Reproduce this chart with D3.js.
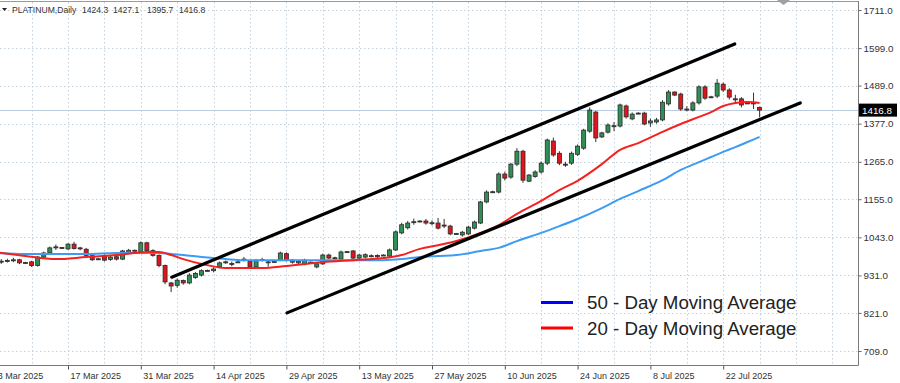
<!DOCTYPE html>
<html><head><meta charset="utf-8">
<script src="https://cdn.jsdelivr.net/npm/d3@7"></script>
<style>html,body{margin:0;padding:0;background:#fff;} svg{display:block;font-family:"Liberation Sans",Arial,sans-serif;}</style>
</head><body>
<svg id="chart" width="900" height="383"></svg>
<script>
// ---------------- DATA ----------------
const symbol = "PLATINUM,Daily";
const headerValues = ["1424.3", "1427.1", "1395.7", "1416.8"];
const xTickBars = [0, 12, 24, 36, 48, 60, 72, 84, 96, 108, 120];
const xTickLabels = ["3 Mar 2025", "17 Mar 2025", "31 Mar 2025", "14 Apr 2025", "29 Apr 2025",
  "13 May 2025", "27 May 2025", "10 Jun 2025", "24 Jun 2025", "8 Jul 2025", "22 Jul 2025"];
const yTicks = [709, 821, 931, 1043, 1155, 1265, 1377, 1489, 1599, 1711];

const opens = [
  974, 970, 973, 975, 977, 968, 971, 960, 985, 997,
  1013, 1013, 1009, 1023, 1012, 1008, 989, 978, 990, 978,
  986, 979, 997, 1005, 1000, 1027, 1004, 990, 960, 909,
  902, 916, 909, 925, 932, 946, 945, 956, 970, 966,
  970, 978, 972, 956, 978, 970, 972, 976, 995, 976,
  968, 964, 970, 956, 965, 991, 982, 979, 1000, 1003,
  982, 985, 988, 990, 990, 988, 1006, 1056, 1071, 1088,
  1091, 1091, 1085, 1085, 1079, 1076, 1053, 1050, 1053, 1070,
  1085, 1147, 1176, 1176, 1229, 1220, 1258, 1296, 1208, 1222,
  1235, 1261, 1326, 1290, 1258, 1261, 1287, 1305, 1355, 1411,
  1338, 1352, 1370, 1370, 1429, 1391, 1408, 1408, 1379, 1382,
  1388, 1435, 1470, 1464, 1420, 1417, 1438, 1485, 1455, 1458,
  1493, 1476, 1450, 1450, 1438, 1438, 1424.3];
const highs = [
  978, 979, 980, 983, 980, 971, 974, 988, 1001, 1016,
  1022, 1014, 1026, 1030, 1015, 1012, 991, 982, 993, 989,
  990, 1006, 1009, 1007, 1031, 1030, 1008, 993, 963, 912,
  922, 919, 938, 941, 949, 948, 955, 972, 975, 972,
  973, 985, 975, 979, 983, 975, 974, 1001, 999, 979,
  976, 980, 972, 969, 995, 995, 986, 1004, 1003, 1006,
  995, 996, 993, 993, 993, 1010, 1063, 1086, 1091, 1098,
  1093, 1097, 1093, 1100, 1097, 1080, 1056, 1062, 1077, 1092,
  1150, 1181, 1180, 1234, 1236, 1262, 1305, 1300, 1229, 1240,
  1266, 1333, 1336, 1296, 1265, 1295, 1316, 1362, 1425, 1415,
  1353, 1378, 1382, 1436, 1433, 1410, 1411, 1412, 1392, 1394,
  1446, 1476, 1472, 1468, 1428, 1443, 1490, 1490, 1459, 1508,
  1498, 1481, 1462, 1455, 1440, 1468, 1427.1];
const lows = [
  966, 965, 969, 970, 964, 966, 956, 957, 982, 994,
  1006, 1010, 1006, 1007, 1005, 987, 974, 976, 972, 974,
  975, 976, 993, 1002, 997, 1000, 986, 955, 905, 882,
  895, 904, 905, 921, 928, 943, 940, 952, 965, 958,
  968, 972, 952, 953, 972, 957, 970, 973, 972, 966,
  964, 961, 968, 952, 962, 979, 978, 976, 998, 978,
  978, 981, 984, 982, 988, 985, 1003, 1052, 1066, 1080,
  1087, 1080, 1078, 1066, 1070, 1049, 1051, 1045, 1050, 1066,
  1082, 1143, 1173, 1172, 1210, 1215, 1252, 1203, 1205, 1218,
  1230, 1255, 1280, 1255, 1250, 1256, 1282, 1300, 1350, 1323,
  1335, 1348, 1355, 1366, 1392, 1387, 1405, 1372, 1368, 1377,
  1384, 1430, 1458, 1415, 1413, 1413, 1433, 1447, 1452, 1452,
  1470, 1448, 1435, 1425, 1435, 1420, 1395.7];
const closes = [
  970, 973, 975, 977, 968, 969, 960, 985, 997, 1012,
  1015, 1012, 1023, 1010, 1010, 990, 977, 980, 976, 985,
  979, 1003, 1005, 1004, 1027, 1004, 990, 960, 912, 900,
  917, 909, 932, 937, 945, 945, 950, 968, 971, 964,
  971, 979, 956, 976, 978, 971, 972, 997, 976, 970,
  972, 976, 970, 965, 991, 982, 983, 1000, 1001, 982,
  991, 992, 989, 986, 991, 1006, 1059, 1080, 1085, 1089,
  1089, 1085, 1086, 1070, 1078, 1053, 1054, 1058, 1073, 1088,
  1147, 1176, 1177, 1229, 1217, 1258, 1296, 1211, 1226, 1235,
  1261, 1329, 1285, 1261, 1256, 1290, 1311, 1358, 1417, 1335,
  1350, 1373, 1371, 1432, 1397, 1405, 1408, 1376, 1385, 1388,
  1440, 1470, 1461, 1420, 1420, 1438, 1485, 1452, 1456, 1496,
  1476, 1455, 1449, 1432, 1438, 1437, 1416.8];
const lastPrice = 1416.8;

const maBars = [0, 5, 10, 15, 20, 25, 27, 29, 31, 34, 38, 41, 44, 48, 54, 59, 64, 67, 70, 73, 76, 80, 83, 86, 90, 93, 96, 100, 103, 106, 110, 113, 116, 118, 120, 122, 124, 126];
const ma50 = [997, 994, 994, 994, 997, 997, 997, 994, 991, 985, 979, 976, 976, 976, 976, 976, 976, 979, 985, 988, 991, 1003, 1012, 1032, 1056, 1076, 1097, 1129, 1156, 1179, 1211, 1241, 1264, 1279, 1294, 1308, 1323, 1338];
const ma20 = [1000, 988, 979, 985, 991, 1000, 1000, 991, 979, 965, 953, 953, 953, 959, 970, 976, 982, 991, 1009, 1020, 1032, 1056, 1079, 1112, 1150, 1182, 1209, 1258, 1300, 1320, 1353, 1376, 1397, 1411, 1429, 1438, 1441, 1438];

const channelUpper = [[29.1, 926], [121.9, 1611]];
const channelLower = [[48.1, 821], [132.7, 1438]];

const legendLabels = ["50 - Day Moving Average", "20 - Day Moving Average"];
const legendColors = ["#0000ff", "#ff0000"];

// ---------------- DRAW ----------------
const svg = d3.select("#chart");
const P = {left: 0, right: 858, top: 2, bottom: 365};
const x = d3.scaleLinear().domain([0, 120]).range([-4.8, 723.2]);
const y = d3.scaleLinear().domain([709, 1711]).range([351, 10]);

svg.append("defs").append("clipPath").attr("id", "clip")
  .append("rect").attr("x", P.left).attr("y", P.top).attr("width", P.right - P.left).attr("height", P.bottom - P.top);

const g = svg.append("g").attr("clip-path", "url(#clip)");

// grid
const gridColor = "#c4d0dc";
const gridBars = d3.range(0, 150, 6);
g.append("g").selectAll("line").data(gridBars).join("line")
  .attr("x1", d => Math.round(x(d)) + 0.5).attr("x2", d => Math.round(x(d)) + 0.5)
  .attr("y1", P.top).attr("y2", P.bottom)
  .attr("stroke", gridColor).attr("stroke-width", 1).attr("stroke-dasharray", "1.5,2.5");
g.append("g").selectAll("line").data(yTicks).join("line")
  .attr("x1", P.left).attr("x2", P.right)
  .attr("y1", d => Math.round(y(d)) + 0.5).attr("y2", d => Math.round(y(d)) + 0.5)
  .attr("stroke", gridColor).attr("stroke-width", 1).attr("stroke-dasharray", "1.5,2.5");

// last price line
g.append("line").attr("x1", P.left).attr("x2", P.right)
  .attr("y1", Math.round(y(lastPrice)) + 0.5).attr("y2", Math.round(y(lastPrice)) + 0.5)
  .attr("stroke", "#b9cde0").attr("stroke-width", 1);

// candles
const bars = opens.map((o, i) => ({i, o, h: highs[i], l: lows[i], c: closes[i]}));
const cg = g.append("g");
cg.selectAll("line.wick").data(bars).join("line").attr("class", "wick")
  .attr("x1", d => x(d.i)).attr("x2", d => x(d.i))
  .attr("y1", d => y(d.h)).attr("y2", d => y(d.l))
  .attr("stroke", "#333").attr("stroke-width", 1);
cg.selectAll("rect.body").data(bars).join("rect").attr("class", "body")
  .attr("x", d => x(d.i) - 2).attr("width", 4)
  .attr("y", d => y(Math.max(d.o, d.c)))
  .attr("height", d => Math.max(1, Math.abs(y(d.o) - y(d.c))))
  .attr("fill", d => d.c >= d.o ? "#2f8f55" : "#e0151b")
  .attr("stroke", "#2a2a2a").attr("stroke-width", 0.8);

// moving averages
const maLine = arr => d3.line().x((d, k) => x(maBars[k])).y(d => y(d)).curve(d3.curveMonotoneX)(arr);
g.append("path").attr("d", maLine(ma50)).attr("fill", "none").attr("stroke", "#3d9cf2").attr("stroke-width", 2);
g.append("path").attr("d", maLine(ma20)).attr("fill", "none").attr("stroke", "#f52020").attr("stroke-width", 2);

// channel lines
[channelUpper, channelLower].forEach(seg => {
  g.append("line")
    .attr("x1", x(seg[0][0])).attr("y1", y(seg[0][1]))
    .attr("x2", x(seg[1][0])).attr("y2", y(seg[1][1]))
    .attr("stroke", "#000").attr("stroke-width", 3.2).attr("stroke-linecap", "round");
});

// frame
svg.append("line").attr("x1", 0).attr("x2", P.right + 0.5).attr("y1", 1.5).attr("y2", 1.5).attr("stroke", "#9a9a9a");
svg.append("line").attr("x1", P.right + 0.5).attr("x2", P.right + 0.5).attr("y1", 1).attr("y2", P.bottom + 0.5).attr("stroke", "#7a7a7a");
svg.append("line").attr("x1", 0).attr("x2", P.right + 0.5).attr("y1", P.bottom + 0.5).attr("y2", P.bottom + 0.5).attr("stroke", "#7a7a7a");

// right axis
const ay = svg.append("g").attr("transform", `translate(${P.right + 0.5},0)`)
  .call(d3.axisRight(y).tickValues(yTicks).tickFormat(d3.format(".1f")).tickSize(3).tickPadding(2));
ay.select(".domain").remove();
ay.selectAll("line").attr("stroke", "#666");
ay.selectAll("text").attr("font-size", "9.8px").attr("fill", "#333").attr("font-family", "Liberation Sans, Arial, sans-serif");

// bottom axis
const ax = svg.append("g").attr("transform", `translate(0,${P.bottom + 0.5})`)
  .call(d3.axisBottom(x).tickValues(xTickBars).tickFormat((d, k) => xTickLabels[k]).tickSize(4).tickPadding(4));
ax.select(".domain").remove();
ax.selectAll("line").attr("stroke", "#555");
ax.selectAll("text").attr("text-anchor", "start").attr("dx", "2px").attr("dy", "0.6em")
  .attr("font-size", "9px").attr("fill", "#333").attr("font-family", "Liberation Sans, Arial, sans-serif");

// last price tag
const ly = y(lastPrice);
svg.append("rect").attr("x", P.right + 1).attr("y", ly - 6.5).attr("width", 38).attr("height", 13).attr("fill", "#000");
svg.append("text").attr("x", P.right + 4).attr("y", ly).attr("dy", "0.35em")
  .attr("font-size", "9.8px").attr("fill", "#fff").text(lastPrice.toFixed(1));

// header
svg.append("path").attr("d", "M2,8 L7,8 L4.5,11 Z").attr("fill", "#222");
const hdrX = [12, 82, 113, 147, 179];
[symbol].concat(headerValues).forEach((t, k) => {
  svg.append("text").attr("x", hdrX[k]).attr("y", 13).attr("font-size", "8.6px").attr("fill", "#333").text(t);
});
// small shift marker at top
svg.append("path").attr("d", "M777,0 L790,0 L783.5,5 Z").attr("fill", "#a0a0a0");

// legend
const legY = [302.5, 328];
legendLabels.forEach((t, k) => {
  svg.append("line").attr("x1", 541).attr("x2", 573).attr("y1", legY[k]).attr("y2", legY[k])
    .attr("stroke", legendColors[k]).attr("stroke-width", 3);
  svg.append("text").attr("x", 587).attr("y", legY[k]).attr("dy", "0.35em")
    .attr("font-size", "18.7px").attr("fill", "#222").text(t);
});
</script>
</body></html>
